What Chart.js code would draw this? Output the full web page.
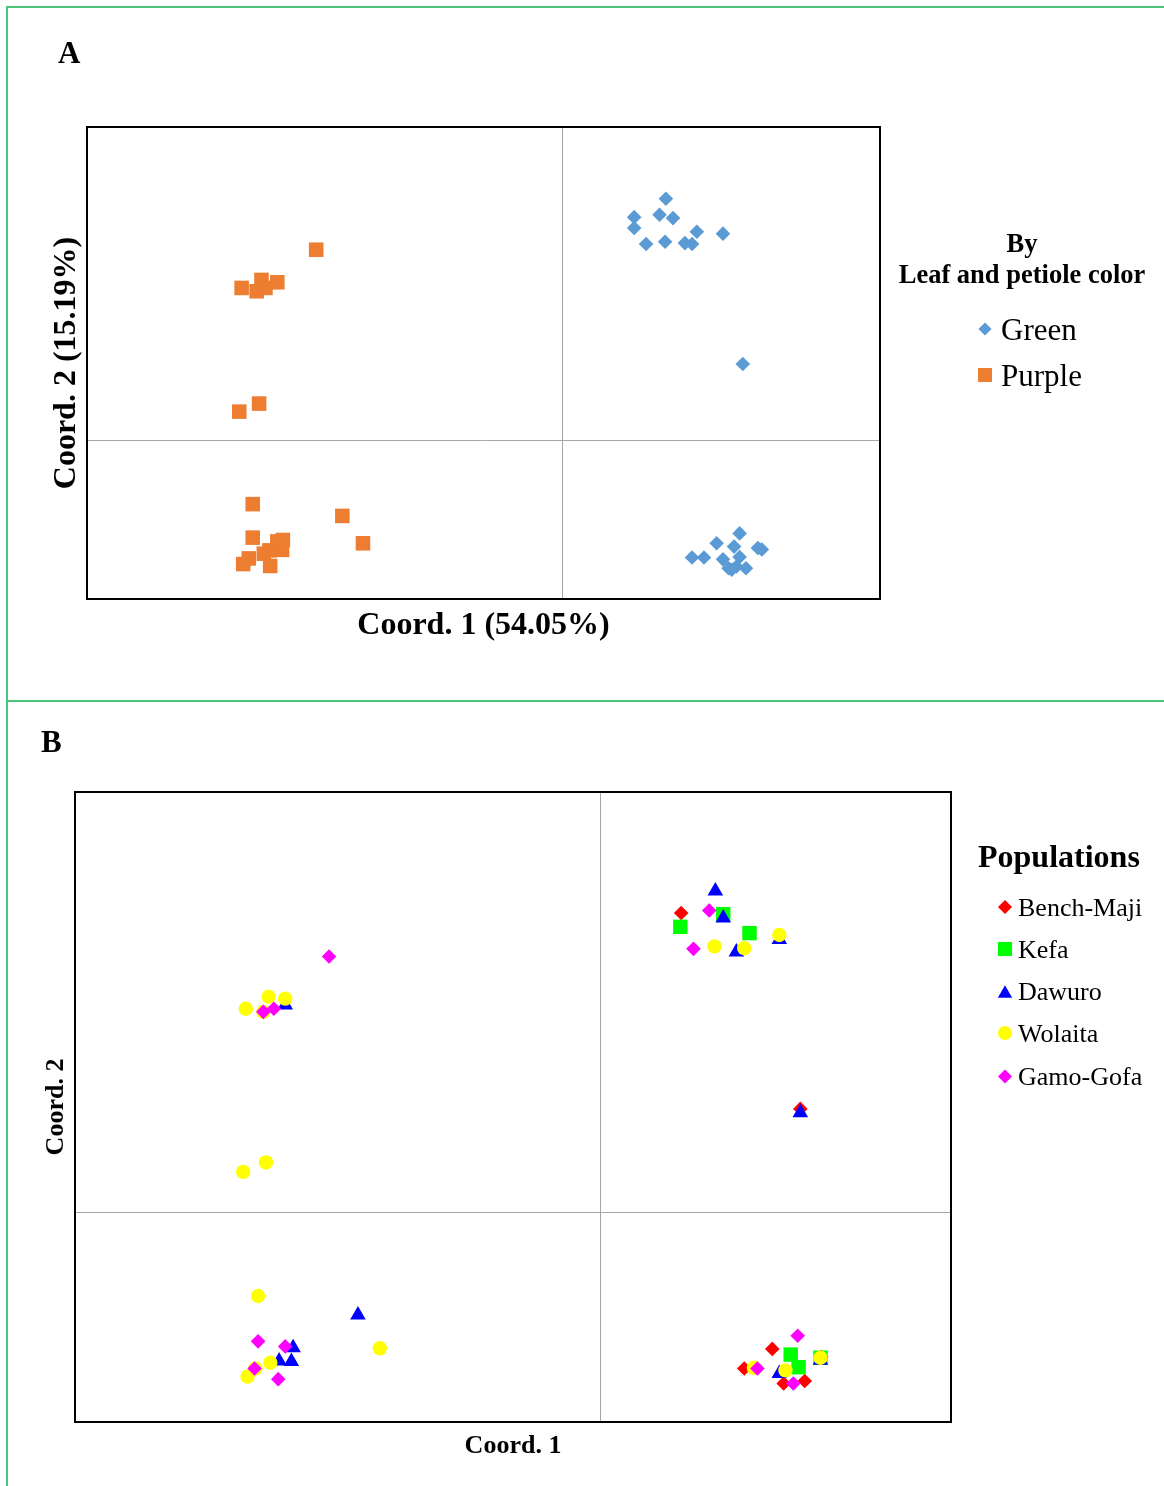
<!DOCTYPE html>
<html>
<head>
<meta charset="utf-8">
<script src="https://cdn.jsdelivr.net/npm/chart.js@4/dist/chart.umd.min.js"></script>
<style>
  html, body { margin: 0; padding: 0; background: #fff; }
  body { width: 1164px; height: 1486px; position: relative; overflow: hidden;
         font-family: "Liberation Serif", "Times New Roman", serif; }
  .panel { position: absolute; left: 0; }
  .rule { position: absolute; background: #4cc47a; z-index: 2; }
  .tag { position: absolute; font-weight: bold; font-size: 31px; line-height: 1; color: #000; z-index: 2; }
</style>
</head>
<body>
<canvas id="chartA" class="panel" style="top:0" width="1164" height="700"></canvas>
<canvas id="chartB" class="panel" style="top:702px" width="1164" height="784"></canvas>
<div class="rule" style="left:6px;top:6px;width:1158px;height:2px"></div>
<div class="rule" style="left:6px;top:6px;width:2px;height:1480px"></div>
<div class="rule" style="left:6px;top:700px;width:1158px;height:2px"></div>
<div class="tag" style="left:58px;top:37px">A</div>
<div class="tag" style="left:41px;top:726px">B</div>
<script>
// ---- Panel A: PCoA grouped by leaf and petiole color ----
const axisTitlesA = ['Coord. 1 (54.05%)', 'Coord. 2 (15.19%)'];
const groupNamesA = ['Green', 'Purple'];
const greenPts = [
  [0.130, 0.513], [0.090, 0.474], [0.090, 0.451], [0.122, 0.479], [0.139, 0.472],
  [0.105, 0.417], [0.129, 0.422], [0.154, 0.419], [0.163, 0.417], [0.169, 0.443],
  [0.202, 0.439], [0.227, 0.163],
  [0.223, -0.196], [0.194, -0.217], [0.251, -0.230], [0.246, -0.227], [0.216, -0.224],
  [0.163, -0.247], [0.178, -0.247], [0.202, -0.251], [0.223, -0.246], [0.209, -0.270],
  [0.219, -0.266], [0.231, -0.270], [0.213, -0.273]
];
const purplePts = [
  [-0.311, 0.405], [-0.405, 0.324], [-0.380, 0.341], [-0.386, 0.317], [-0.375, 0.324],
  [-0.360, 0.336], [-0.383, 0.079], [-0.408, 0.062],
  [-0.391, -0.134], [-0.391, -0.205], [-0.278, -0.159], [-0.252, -0.217], [-0.353, -0.210],
  [-0.360, -0.213], [-0.354, -0.231], [-0.370, -0.232], [-0.377, -0.239], [-0.396, -0.249],
  [-0.403, -0.261], [-0.369, -0.265]
];

// ---- Panel B: the same accessions grouped by population ----
const axisTitlesB = ['Coord. 1', 'Coord. 2'];
const populations = ['Bench-Maji', 'Kefa', 'Dawuro', 'Wolaita', 'Gamo-Gofa'];
const benchMajiPts = [
  [0.092, 0.475], [0.228, 0.164], [0.196, -0.217], [0.164, -0.248], [0.209, -0.272],
  [0.233, -0.268], [0.252, -0.230]
];
const kefaPts = [
  [0.140, 0.473], [0.091, 0.453], [0.170, 0.443], [0.217, -0.226], [0.226, -0.246],
  [0.251, -0.231]
];
const dawuroPts = [
  [0.131, 0.510], [0.140, 0.467], [0.204, 0.433], [0.155, 0.413], [0.228, 0.158],
  [-0.360, 0.329], [-0.277, -0.163], [-0.351, -0.215], [-0.367, -0.236], [-0.353, -0.237],
  [0.204, -0.256], [0.251, -0.235]
];
const wolaitaPts = [
  [0.204, 0.440], [0.130, 0.422], [0.164, 0.419], [-0.405, 0.323], [-0.379, 0.342],
  [-0.360, 0.339], [-0.385, 0.318], [-0.408, 0.064], [-0.382, 0.079], [-0.391, -0.133],
  [-0.252, -0.216], [-0.377, -0.239], [-0.394, -0.248], [-0.403, -0.261], [0.175, -0.247],
  [0.211, -0.251], [0.251, -0.231]
];
const gamoGofaPts = [
  [0.124, 0.479], [0.106, 0.418], [-0.310, 0.406], [-0.385, 0.318], [-0.373, 0.323],
  [-0.391, -0.205], [-0.360, -0.213], [-0.395, -0.248], [-0.368, -0.265], [0.225, -0.196],
  [0.179, -0.248], [0.220, -0.272]
];

const SERIF = '"Liberation Serif", "Times New Roman", serif';
const toXY = pts => pts.map(p => ({ x: p[0], y: p[1] }));

// Marker outline matching Chart.js point geometry, used for the side legend
function drawMarker(ctx, style, r, x, y, color) {
  ctx.save();
  ctx.fillStyle = color;
  ctx.beginPath();
  if (style === 'circle') {
    ctx.arc(x, y, r, 0, Math.PI * 2);
  } else if (style === 'rect') {
    const h = r * Math.SQRT1_2;
    ctx.rect(x - h, y - h, 2 * h, 2 * h);
  } else if (style === 'rectRot') {
    ctx.moveTo(x, y - r); ctx.lineTo(x + r, y); ctx.lineTo(x, y + r); ctx.lineTo(x - r, y);
  } else if (style === 'triangle') {
    y += r / 4;
    ctx.moveTo(x, y - r);
    ctx.lineTo(x + r * Math.sin(Math.PI * 2 / 3), y + r * 0.5);
    ctx.lineTo(x - r * Math.sin(Math.PI * 2 / 3), y + r * 0.5);
  }
  ctx.closePath();
  ctx.fill();
  ctx.restore();
}

// Plot frame + side legend
const framePlugin = {
  id: 'plotFrame',
  beforeDatasetsDraw(chart) {
    const { ctx, chartArea: a } = chart;
    ctx.save();
    ctx.strokeStyle = '#000';
    ctx.lineWidth = 2;
    ctx.strokeRect(a.left, a.top, a.right - a.left, a.bottom - a.top);
    ctx.restore();
  }
};
const sideLegendPlugin = {
  id: 'sideLegend',
  afterDraw(chart, args, opts) {
    const ctx = chart.ctx;
    ctx.save();
    ctx.fillStyle = '#000';
    ctx.textBaseline = 'middle';
    ctx.font = 'bold ' + opts.titleSize + 'px ' + SERIF;
    opts.titleLines.forEach(t => {
      ctx.textAlign = t.align;
      ctx.fillText(t.text, t.x, t.y);
    });
    ctx.font = opts.itemSize + 'px ' + SERIF;
    ctx.textAlign = 'left';
    chart.data.datasets.forEach((ds, i) => {
      const y = opts.itemY[i];
      drawMarker(ctx, ds.pointStyle, opts.markerR[i], opts.markerX, y, ds.backgroundColor);
      ctx.fillStyle = '#000';
      ctx.fillText(ds.label, opts.textX, y + opts.textDy);
    });
    ctx.restore();
  }
};

function axis(title, size, fitKey, fitVal, min, max) {
  return {
    type: 'linear', min: min, max: max,
    afterBuildTicks: s => { s.ticks = [{ value: 0 }]; },
    afterFit: s => { s[fitKey] = fitVal; },
    ticks: { display: false },
    grid: { color: '#a6a6a6', lineWidth: 1, drawTicks: false },
    border: { display: false },
    title: { display: true, text: title, color: '#000', padding: 0,
             font: { family: SERIF, size: size, weight: 'bold' } }
  };
}

function ds(label, pts, style, color, r, order) {
  return {
    label: label, data: toXY(pts), pointStyle: style, pointRadius: r,
    backgroundColor: color, pointBackgroundColor: color, pointBorderWidth: 0,
    borderWidth: 0, order: order
  };
}

new Chart(document.getElementById('chartA'), {
  type: 'scatter',
  data: {
    datasets: [
      ds(groupNamesA[0], greenPts, 'rectRot', '#5b9bd5', 7.3, 1),
      ds(groupNamesA[1], purplePts, 'rect', '#ed7d31', 10.3, 0)
    ]
  },
  options: {
    responsive: false, animation: false, events: [],
    layout: { padding: { left: 48, top: 127, right: 284, bottom: 55 } },
    scales: {
      x: axis(axisTitlesA[0], 32, 'height', 46, -0.6, 0.4),
      y: axis(axisTitlesA[1], 32, 'width', 39, -0.335, 0.665)
    },
    plugins: {
      legend: { display: false }, tooltip: { enabled: false },
      sideLegend: {
        titleSize: 26.5,
        titleLines: [
          { text: 'By', x: 1022, y: 245, align: 'center' },
          { text: 'Leaf and petiole color', x: 1022, y: 276.5, align: 'center' }
        ],
        itemSize: 31, markerX: 985, textX: 1001, textDy: 2.5,
        itemY: [329, 375], markerR: [6.6, 9.9]
      }
    }
  },
  plugins: [framePlugin, sideLegendPlugin]
});

new Chart(document.getElementById('chartB'), {
  type: 'scatter',
  data: {
    datasets: [
      ds(populations[0], benchMajiPts, 'rectRot', '#ff0000', 7.3, 4),
      ds(populations[1], kefaPts, 'rect', '#00ff00', 10.2, 3),
      ds(populations[2], dawuroPts, 'triangle', '#0000ff', 9, 2),
      ds(populations[3], wolaitaPts, 'circle', '#ffff00', 7.2, 1),
      ds(populations[4], gamoGofaPts, 'rectRot', '#ff00ff', 7.3, 0)
    ]
  },
  options: {
    responsive: false, animation: false, events: [],
    layout: { padding: { left: 40.4, top: 90, right: 213, bottom: 24 } },
    scales: {
      x: axis(axisTitlesB[0], 26, 'height', 40, -0.6, 0.4),
      y: axis(axisTitlesB[1], 26, 'width', 34.6, -0.333, 0.667)
    },
    plugins: {
      legend: { display: false }, tooltip: { enabled: false },
      sideLegend: {
        titleSize: 32,
        titleLines: [{ text: 'Populations', x: 978, y: 157, align: 'left' }],
        itemSize: 26, markerX: 1005, textX: 1018, textDy: 2,
        itemY: [205, 247, 289.5, 331, 374.5], markerR: [7, 10, 8.3, 7, 7]
      }
    }
  },
  plugins: [framePlugin, sideLegendPlugin]
});
</script>
</body>
</html>
